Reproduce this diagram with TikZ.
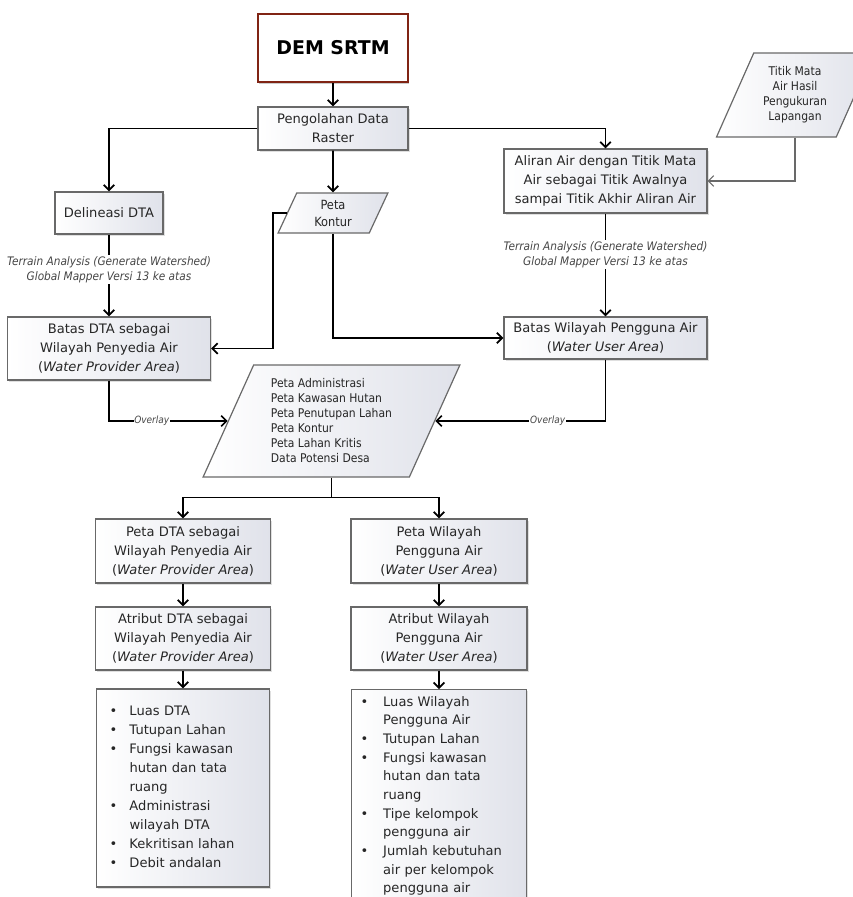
\documentclass[tikz,border=0pt]{standalone}
\usepackage{fontspec}
\setmainfont{DejaVu Sans}
\newfontfamily\condfont{DejaVu Sans Condensed}
\usetikzlibrary{shapes.geometric,arrows.meta,shadows}
\definecolor{boxgray}{RGB}{224,226,234}
\definecolor{demred}{RGB}{128,36,20}
\definecolor{edgegray}{RGB}{105,105,105}
\definecolor{notegray}{RGB}{70,70,70}
\tikzset{
  box/.style={draw=edgegray, line width=.9pt, left color=white, right color=boxgray,
    drop shadow={opacity=.25, shadow xshift=1.2pt, shadow yshift=-1.2pt},
    align=center, inner sep=0pt, text=black!85, font=\fontsize{9.8}{14.25}\selectfont},
  slantbox/.style={trapezium, trapezium stretches=true, draw=edgegray, line width=.9pt,
    left color=white, right color=boxgray, inner sep=0pt, text=black!85,
    font=\condfont\fontsize{9}{11.25}\selectfont},
  flow/.style={line width=1.3pt, -{Straight Barb[length=4pt,width=8pt]}},
  note/.style={font=\condfont\itshape\fontsize{8.8}{11.25}\selectfont, text=notegray,
    fill=white, align=center, inner sep=1pt},
  lbl/.style={font=\condfont\itshape\fontsize{7.5}{8}\selectfont, text=notegray,
    fill=white, inner sep=.5pt}
}
\newcommand\itemrow[1]{\textbullet & #1\\}
\newcommand\morerow[1]{& #1\\}
\begin{document}
\begin{tikzpicture}[x=.75pt, y=-.75pt]
  \useasboundingbox (0,0) rectangle (853,897);
  \clip (0,0) rectangle (853,897);

  \node[draw=demred, line width=2pt, fill=white, minimum width=150*.75pt, minimum height=68*.75pt,
    drop shadow={opacity=.4, shadow xshift=1pt, shadow yshift=-1.5pt},
    font=\bfseries\fontsize{14.2}{18}\selectfont] (dem) at (333,48) {DEM SRTM};
  \node[box, minimum width=150*.75pt, minimum height=43*.75pt] (peng) at (333,128.5) {Pengolahan Data\\Raster};
  \node[box, minimum width=108*.75pt, minimum height=42*.75pt] (delin) at (109,213) {Delineasi DTA};
  \node[slantbox, align=center, trapezium left angle=70, trapezium right angle=110,
    minimum width=110*.75pt, minimum height=40*.75pt, font=\condfont\fontsize{9.5}{12.75}\selectfont]
    (kontur) at (333,213) {Peta\\Kontur};
  \node[slantbox, align=center, trapezium left angle=63, trapezium right angle=117,
    minimum width=158*.75pt, minimum height=84*.75pt] (titik) at (795,95)
    {Titik Mata\\Air Hasil\\Pengukuran\\Lapangan};
  \node[box, minimum width=203*.75pt, minimum height=64*.75pt] (aliran) at (605.5,181)
    {Aliran Air dengan Titik Mata\\Air sebagai Titik Awalnya\\sampai Titik Akhir Aliran Air};
  \node[box, minimum width=203*.75pt, minimum height=63*.75pt] (batasdta) at (109,348.5)
    {Batas DTA sebagai\\Wilayah Penyedia Air\\(\textit{Water Provider Area})};
  \node[box, minimum width=203*.75pt, minimum height=42*.75pt] (batasw) at (605.5,338)
    {Batas Wilayah Pengguna Air\\(\textit{Water User Area})};
  \node[slantbox, align=left, trapezium left angle=65, trapezium right angle=115,
    minimum width=257*.75pt, minimum height=112*.75pt] (data) at (331.5,421)
    {Peta Administrasi\\Peta Kawasan Hutan\\Peta Penutupan Lahan\\Peta Kontur\\Peta Lahan Kritis\\Data Potensi Desa};

  \node[box, minimum width=175*.75pt, minimum height=64*.75pt] (pdta) at (183,551)
    {Peta DTA sebagai\\Wilayah Penyedia Air\\(\textit{Water Provider Area})};
  \node[box, minimum width=176*.75pt, minimum height=64*.75pt] (pw) at (439,551)
    {Peta Wilayah\\Pengguna Air\\(\textit{Water User Area})};
  \node[box, minimum width=175*.75pt, minimum height=63*.75pt] (adta) at (183,638.5)
    {Atribut DTA sebagai\\Wilayah Penyedia Air\\(\textit{Water Provider Area})};
  \node[box, minimum width=176*.75pt, minimum height=63*.75pt] (aw) at (439,638.5)
    {Atribut Wilayah\\Pengguna Air\\(\textit{Water User Area})};
  \node[box, minimum width=173*.75pt, minimum height=198*.75pt, text width=147*.75pt, align=left] (ldta) at (183,788)
    {\begin{tabular}{@{}p{15pt}@{}l@{}}
      \itemrow{Luas DTA}
      \itemrow{Tutupan Lahan}
      \itemrow{Fungsi kawasan}
      \morerow{hutan dan tata}
      \morerow{ruang}
      \itemrow{Administrasi}
      \morerow{wilayah DTA}
      \itemrow{Kekritisan lahan}
      \itemrow{Debit andalan}
    \end{tabular}};
  \node[box, anchor=north, minimum width=175*.75pt, text width=157*.75pt, align=left, inner ysep=2.5pt,
    font=\fontsize{9.8}{14}\selectfont] (lw) at (439,689)
    {\begin{tabular}{@{}p{17pt}@{}l@{}}
      \itemrow{Luas Wilayah}
      \morerow{Pengguna Air}
      \itemrow{Tutupan Lahan}
      \itemrow{Fungsi kawasan}
      \morerow{hutan dan tata}
      \morerow{ruang}
      \itemrow{Tipe kelompok}
      \morerow{pengguna air}
      \itemrow{Jumlah kebutuhan}
      \morerow{air per kelompok}
      \morerow{pengguna air}
    \end{tabular}};

  \draw[flow] (dem) -- (peng);
  \draw[flow] (peng.west) -| (delin.north);
  \draw[flow] (peng.east) -| (aliran.north);
  \draw[flow] (peng.south) -- (kontur.north);
  \draw[flow] (delin) -- node[note, pos=.43] {Terrain Analysis (Generate Watershed)\\Global Mapper Versi 13 ke atas} (batasdta);
  \draw[flow] (aliran) -- node[note, pos=.4] {Terrain Analysis (Generate Watershed)\\Global Mapper Versi 13 ke atas} (batasw);
  \draw[flow, line width=.8pt, draw=edgegray] (titik.south) |- (aliran.east);
  \draw[flow] (kontur.left side) -- ++(-14,0) |- (batasdta.east);
  \draw[flow] (kontur.south) |- (batasw.west);
  \draw[flow] (batasdta.south) |- node[lbl, pos=.68] {Overlay} (data.left side);
  \draw[flow] (batasw.south) |- node[lbl, pos=.67] {Overlay} (data.right side);
  \draw[line width=1.3pt] (data.south) -- ++(0,20) coordinate (split);
  \draw[flow] (split) -| (pdta.north);
  \draw[flow] (split) -| (pw.north);
  \draw[flow] (pdta) -- (adta);
  \draw[flow] (pw) -- (aw);
  \draw[flow] (adta) -- (ldta);
  \draw[flow] (aw) -- (lw);
\end{tikzpicture}
\end{document}
